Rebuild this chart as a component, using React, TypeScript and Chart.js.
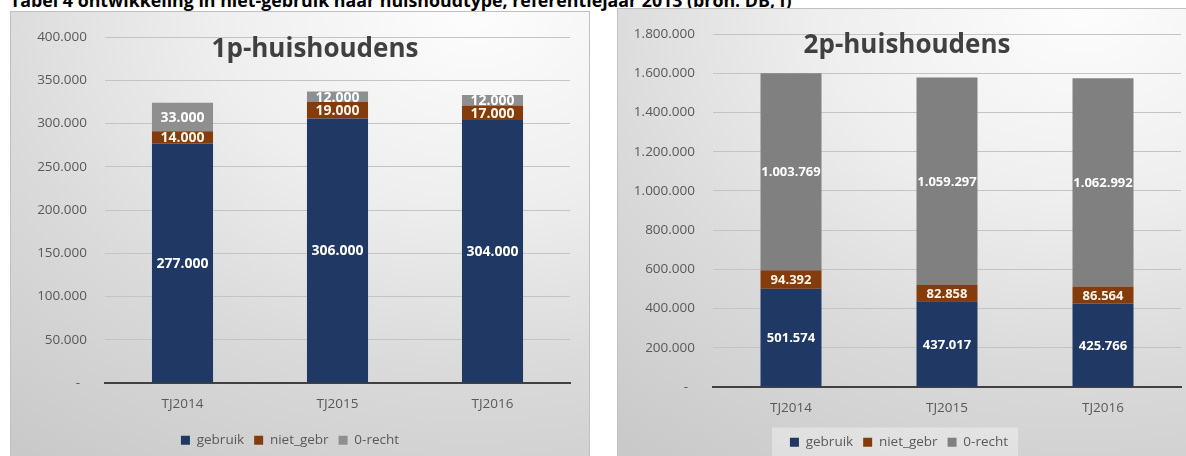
import React, { useEffect, useRef } from 'react';
import { Chart, registerables } from 'chart.js';

Chart.register(...registerables);

const pageTitle = 'Tabel 4 ontwikkeling in niet-gebruik naar huishoudtype, referentiejaar 2013 (bron: DB, I)';
const categories = ['TJ2014', 'TJ2015', 'TJ2016'];
const seriesNames = ['gebruik', 'niet_gebr', '0-recht'];
const seriesColors = ['#1f3864', '#843c0c', '#8f8f8f'];
const seriesColors2 = ['#1f3864', '#843c0c', '#808080'];

const onePTitle = '1p-huishoudens';
const onePGebruik = [277000, 306000, 304000];
const onePNietGebr = [14000, 19000, 17000];
const onePNulRecht = [33000, 12000, 12000];
const onePMax = 400000;
const onePStep = 50000;

const twoPTitle = '2p-huishoudens';
const twoPGebruik = [501574, 437017, 425766];
const twoPNietGebr = [94392, 82858, 86564];
const twoPNulRecht = [1003769, 1059297, 1062992];
const twoPMax = 1800000;
const twoPStep = 200000;

const FONT = '"Open Sans", "Liberation Sans", sans-serif';

const fmt = (v: number) => String(Math.round(v)).replace(/\B(?=(\d{3})+(?!\d))/g, '.');

type Cfg = {
  title: string;
  titleX: number;
  titleY: number;
  titleSize: number;
  labelSize: number;
  legendBox: boolean;
  width: number;
  height: number;
  padTop: number;
  padRight: number;
  yWidth: number;
  xHeight: number;
  yMax: number;
  yStep: number;
  barPct: number;
  colors: string[];
  values: number[][];
};

function makePlugin(cfg: Cfg) {
  return {
    id: 'customDraw',
    beforeDraw(chart: any) {
      if (!cfg.legendBox) return;
      const hb = chart.legend && chart.legend.legendHitBoxes;
      if (!hb || !hb.length) return;
      const ctx = chart.ctx;
      const first = hb[0];
      const last = hb[hb.length - 1];
      ctx.save();
      ctx.fillStyle = 'rgba(255,255,255,0.35)';
      ctx.fillRect(first.left - 18, first.top - 8, last.left + last.width + 10 - (first.left - 18), 40);
      ctx.restore();
    },
    afterDatasetsDraw(chart: any) {
      const ctx = chart.ctx;
      ctx.save();
      ctx.font = `bold ${cfg.labelSize}px ${FONT}`;
      ctx.textAlign = 'center';
      ctx.textBaseline = 'middle';
      chart.data.datasets.forEach((ds: any, i: number) => {
        const meta = chart.getDatasetMeta(i);
        meta.data.forEach((el: any, j: number) => {
          const p = el.getProps(['x', 'y', 'base'], true);
          ctx.fillStyle = i === 1 ? '#fff4e8' : '#ffffff';
          ctx.fillText(fmt(ds.data[j]), p.x, (p.y + p.base) / 2 + 1);
        });
      });
      ctx.font = `bold ${cfg.titleSize}px ${FONT}`;
      ctx.fillStyle = '#404040';
      ctx.textBaseline = 'alphabetic';
      ctx.fillText(cfg.title, cfg.titleX, cfg.titleY);
      ctx.restore();
    },
  };
}

function StackChart({ cfg }: { cfg: Cfg }) {
  const ref = useRef<HTMLCanvasElement>(null);
  useEffect(() => {
    const tickFont = { family: FONT, size: 13.5 };
    const chart = new Chart(ref.current as HTMLCanvasElement, {
      type: 'bar',
      data: {
        labels: categories,
        datasets: seriesNames.map((name, i) => ({
          label: name,
          data: cfg.values[i],
          backgroundColor: cfg.colors[i],
          borderWidth: 0,
          categoryPercentage: 1,
          barPercentage: cfg.barPct,
        })),
      },
      options: {
        responsive: false,
        animation: false,
        devicePixelRatio: 1,
        layout: { padding: { left: 0, right: cfg.padRight, top: cfg.padTop, bottom: 0 } },
        plugins: {
          legend: {
            position: 'bottom',
            labels: {
              boxWidth: 9,
              boxHeight: 9,
              padding: 10,
              color: '#595959',
              font: tickFont,
            },
          },
          tooltip: { enabled: false },
          title: { display: false },
        },
        scales: {
          x: {
            stacked: true,
            grid: { display: false },
            border: { display: true, color: '#404040', width: 2 },
            ticks: { color: '#595959', font: tickFont, padding: 5 },
            afterFit: (s: any) => {
              s.height = cfg.xHeight;
            },
          },
          y: {
            stacked: true,
            min: 0,
            max: cfg.yMax,
            ticks: {
              stepSize: cfg.yStep,
              color: '#595959',
              font: tickFont,
              padding: 18,
              callback: (v: any) => (Number(v) === 0 ? '-  ' : fmt(Number(v))),
            },
            grid: { color: '#c4c4c4', lineWidth: 1, drawTicks: false },
            border: { display: false },
            afterFit: (s: any) => {
              s.width = cfg.yWidth;
            },
          },
        },
      } as any,
      plugins: [makePlugin(cfg)],
    });
    return () => chart.destroy();
  }, []);
  return (
    <canvas
      ref={ref}
      width={cfg.width}
      height={cfg.height}
      style={{ display: 'block', position: 'absolute', left: 0, top: 0, width: cfg.width, height: cfg.height }}
    />
  );
}

const leftCfg: Cfg = {
  title: onePTitle,
  titleX: 305,
  titleY: 46,
  titleSize: 26,
  labelSize: 14,
  legendBox: false,
  width: 580,
  height: 446,
  padTop: 14,
  padRight: 20,
  yWidth: 95,
  xHeight: 40.5,
  yMax: onePMax,
  yStep: onePStep,
  barPct: 0.394,
  colors: seriesColors,
  values: [onePGebruik, onePNietGebr, onePNulRecht],
};

const rightCfg: Cfg = {
  title: twoPTitle,
  titleX: 290,
  titleY: 45,
  titleSize: 26,
  labelSize: 13,
  legendBox: true,
  width: 580,
  height: 451,
  padTop: 20,
  padRight: 16,
  yWidth: 96,
  xHeight: 38.5,
  yMax: twoPMax,
  yStep: twoPStep,
  barPct: 0.391,
  colors: seriesColors2,
  values: [twoPGebruik, twoPNietGebr, twoPNulRecht],
};

const panelBg =
  'radial-gradient(ellipse 130% 120% at 80% 0%, #fdfdfd 0%, #eeeeee 35%, #dadada 65%, #c9c9c9 100%)';

export default function App() {
  useEffect(() => {
    document.body.style.overflow = 'hidden';
  }, []);
  return (
    <div
      style={{
        position: 'absolute',
        left: 0,
        top: 0,
        width: 1186,
        height: 456,
        overflow: 'hidden',
        background: '#ffffff',
      }}
    >
      <div
        style={{
          position: 'absolute',
          left: 10,
          top: -9,
          whiteSpace: 'nowrap',
          fontFamily: FONT,
          fontWeight: 'bold',
          fontSize: 17.8,
          lineHeight: '18px',
          color: '#000',
        }}
      >
        {pageTitle}
      </div>
      <div
        style={{
          position: 'absolute',
          left: 10,
          top: 11,
          width: 580,
          height: 460,
          background: panelBg,
          boxShadow: 'inset 0 0 0 1px #c0c0c0',
        }}
      >
        <StackChart cfg={leftCfg} />
      </div>
      <div
        style={{
          position: 'absolute',
          left: 617,
          top: 8,
          width: 580,
          height: 460,
          background: panelBg,
          boxShadow: 'inset 0 0 0 1px #c0c0c0',
        }}
      >
        <StackChart cfg={rightCfg} />
      </div>
    </div>
  );
}
